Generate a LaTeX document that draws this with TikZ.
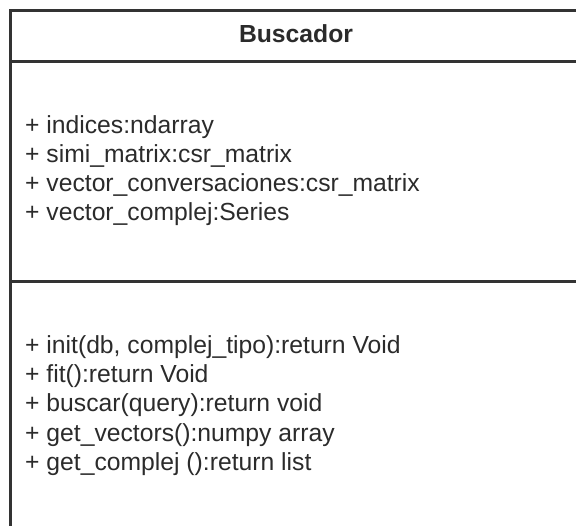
\documentclass[tikz,border=0pt]{standalone}
\usepackage{fontspec}
\setmainfont{Liberation Sans}
\definecolor{umlline}{HTML}{333333}
\definecolor{umltext}{HTML}{2B2B2B}
\begin{document}
\begin{tikzpicture}[x=1pt,y=-1pt,
  member/.style={anchor=base west, inner sep=0pt, text=umltext,
    font=\fontsize{24.7}{29}\selectfont},
  title/.style={anchor=base, inner sep=0pt, text=umltext,
    font=\fontsize{24.7}{29}\selectfont\bfseries},
  frame/.style={draw=umlline, line width=3pt}]
\useasboundingbox (0,0) rectangle (576,526);
\clip (0,0) rectangle (576,526);
% class box (open to the right and bottom)
\coordinate (tl) at (10,11);
\coordinate (tr) at (590,11);
\coordinate (bl) at (10,540);
\coordinate (d1l) at (10,62);
\coordinate (d1r) at (590,62);
\coordinate (d2l) at (10,282);
\coordinate (d2r) at (590,282);
\draw[frame] (bl) -- (tl) -- (tr);
\draw[frame] (d1l) -- (d1r);
\draw[frame] (d2l) -- (d2r);
% class name
\node[title] (name) at (296,43) {Buscador};
% attributes
\node[member] (a1) at (25,134) {+ indices:ndarray};
\node[member] (a2) at (25,163) {+ simi\_matrix:csr\_matrix};
\node[member] (a3) at (25,192) {+ vector\_conversaciones:csr\_matrix};
\node[member] (a4) at (25,221) {+ vector\_complej:Series};
% operations
\node[member] (m1) at (25,354) {+ init(db, complej\_tipo):return Void};
\node[member] (m2) at (25,383) {+ fit():return Void};
\node[member] (m3) at (25,412) {+ buscar(query):return void};
\node[member] (m4) at (25,442) {+ get\_vectors():numpy array};
\node[member] (m5) at (25,471) {+ get\_complej ():return list};
\end{tikzpicture}
\end{document}
